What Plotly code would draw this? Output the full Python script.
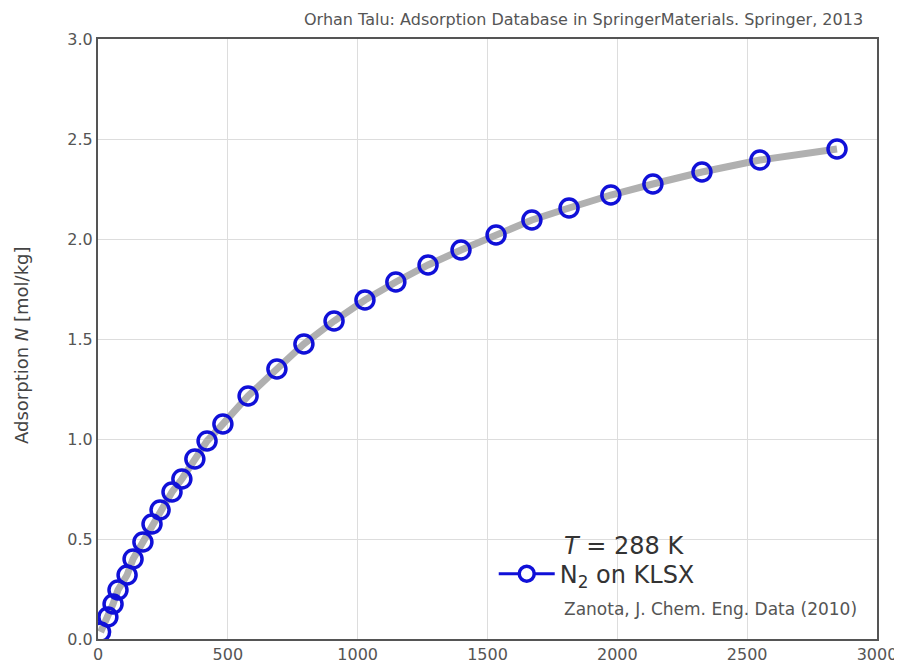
import plotly.graph_objects as go

# pressure [kPa] and adsorbed amount [mol/kg]
pressure = [10, 38, 58, 77, 112, 135, 173, 208, 239, 285, 323, 373, 420, 481,
            578, 689, 793, 909, 1028, 1147, 1271, 1398, 1533, 1671, 1814, 1975,
            2137, 2326, 2549, 2846]
uptake = [0.035, 0.11, 0.175, 0.245, 0.32, 0.40, 0.485, 0.575, 0.645, 0.735,
          0.80, 0.90, 0.99, 1.075, 1.215, 1.35, 1.475, 1.59, 1.695, 1.785,
          1.87, 1.945, 2.02, 2.095, 2.155, 2.22, 2.275, 2.335, 2.395, 2.45]

x_ticks = [0, 500, 1000, 1500, 2000, 2500, 3000]
y_ticks = [0.0, 0.5, 1.0, 1.5, 2.0, 2.5, 3.0]

BLUE = "#1010d8"
FONT = "DejaVu Sans, Liberation Sans, sans-serif"

fig = go.Figure()

fig.add_trace(
    go.Scatter(
        x=pressure,
        y=uptake,
        mode="lines+markers",
        line=dict(color="#b0b0b0", width=7),
        marker=dict(symbol="circle-open", size=18, color=BLUE, line=dict(width=3.5, color=BLUE)),
        showlegend=False,
        hoverinfo="x+y",
    )
)

# legend entry only
fig.add_trace(
    go.Scatter(
        x=[None],
        y=[None],
        mode="lines+markers",
        line=dict(color=BLUE, width=3),
        marker=dict(symbol="circle", size=15, color="white", line=dict(width=3.5, color=BLUE)),
        name="N<sub>2</sub> on KLSX",
    )
)

fig.update_layout(
    width=902,
    height=670,
    margin=dict(l=90, r=33, t=31, b=39),
    paper_bgcolor="white",
    plot_bgcolor="white",
    font=dict(family=FONT, color="#444444"),
    legend=dict(
        x=0.508,
        y=0.108,
        xanchor="left",
        yanchor="middle",
        bgcolor="rgba(0,0,0,0)",
        font=dict(size=24, color="#333333"),
        itemwidth=56,
    ),
    annotations=[
        dict(
            text="Orhan Talu: Adsorption Database in SpringerMaterials. Springer, 2013",
            xref="paper", yref="paper", x=1, y=1, xanchor="right", yanchor="middle",
            xshift=-12, yshift=20, showarrow=False, font=dict(size=16, color="#555555"),
        ),
        dict(
            text="<i>T</i> = 288 K",
            xref="paper", yref="paper", x=0.596, y=0.1545, xanchor="left", yanchor="middle",
            showarrow=False, font=dict(size=24, color="#333333"),
        ),
        dict(
            text="Zanota, J. Chem. Eng. Data (2010)",
            xref="paper", yref="paper", x=0.596, y=0.05, xanchor="left", yanchor="middle",
            showarrow=False, font=dict(size=17, color="#555555"),
        ),
        dict(
            text="Adsorption <i>N</i> [mol/kg]",
            xref="paper", yref="paper", x=0, y=0.49, xanchor="center", yanchor="middle",
            xshift=-77, textangle=-90, showarrow=False, font=dict(size=18, color="#444444"),
        ),
    ],
)

fig.update_xaxes(
    range=[0, 3000],
    tickvals=x_ticks,
    tickfont=dict(size=16, color="#555555"),
    showgrid=True,
    gridcolor="#dddddd",
    gridwidth=1,
    showline=True,
    linecolor="#555555",
    linewidth=2,
    mirror=True,
    zeroline=False,
    ticks="",
    automargin=False,
)
fig.update_yaxes(
    range=[0, 3],
    tickvals=y_ticks,
    tickformat=".1f",
    tickfont=dict(size=16, color="#555555"),
    showgrid=True,
    gridcolor="#dddddd",
    gridwidth=1,
    showline=True,
    linecolor="#555555",
    linewidth=2,
    mirror=True,
    zeroline=False,
    ticks="",
    automargin=False,
)

fig.write_html("out.html")
